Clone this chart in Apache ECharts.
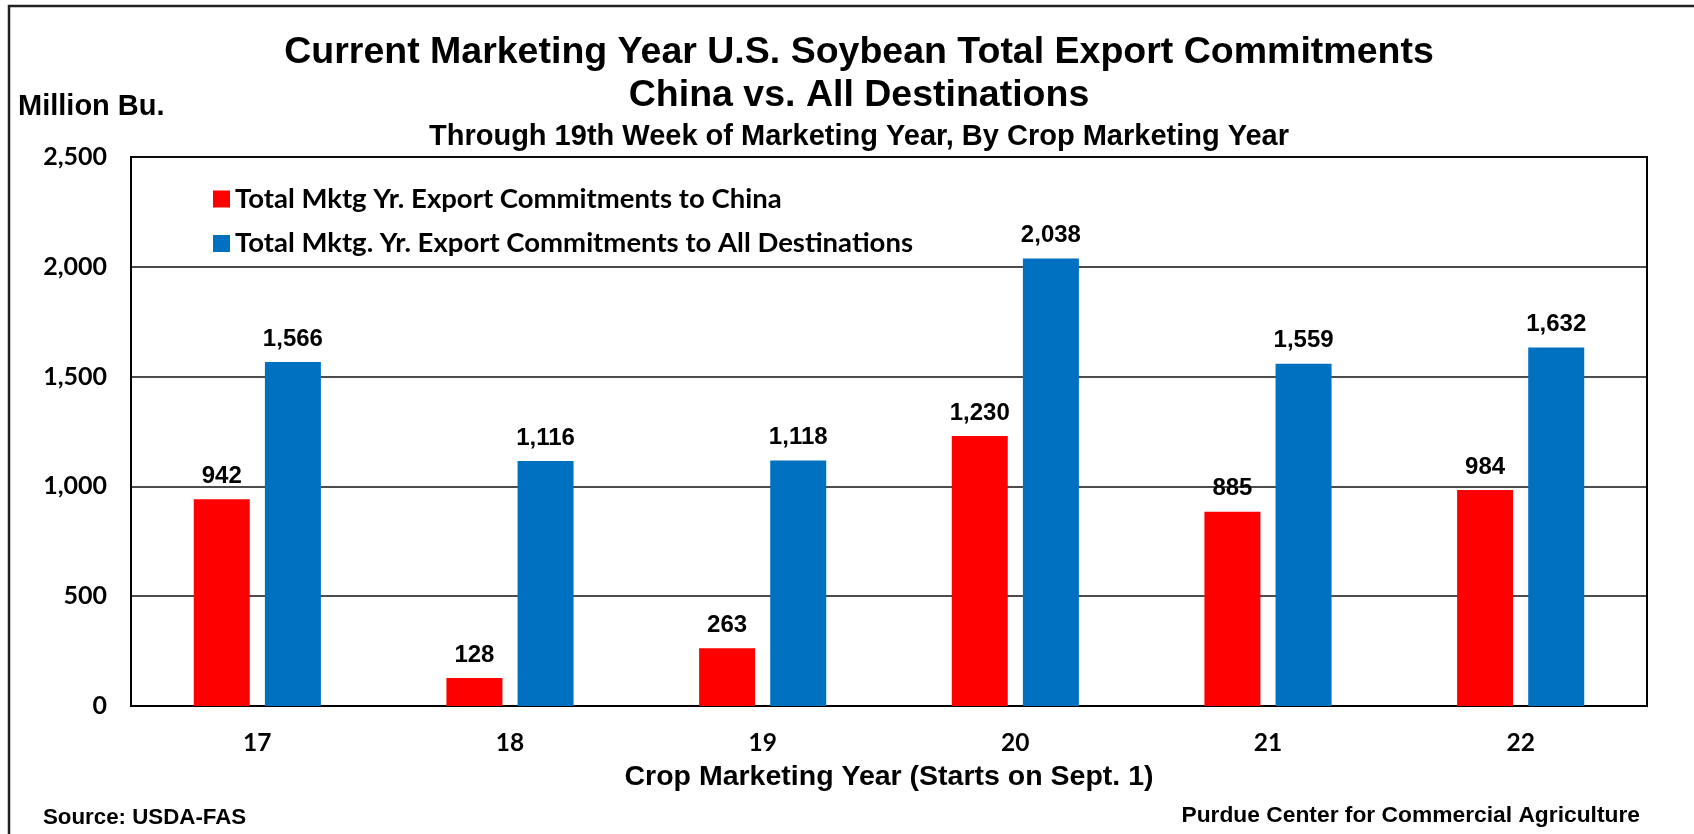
<!DOCTYPE html>
<html>
<head>
<meta charset="utf-8">
<script src="https://cdn.jsdelivr.net/npm/echarts@6/dist/echarts.min.js"></script>
<style>
html,body{margin:0;padding:0;background:#fff;}
#c{width:1694px;height:834px;}
</style>
</head>
<body>
<div id="c"></div>
<script>
const categories = ['17', '18', '19', '20', '21', '22'];
const chinaValues = [942, 128, 263, 1230, 885, 984];
const allDestValues = [1566, 1116, 1118, 2038, 1559, 1632];
const seriesNames = ['Total Mktg Yr. Export Commitments to China', 'Total Mktg. Yr. Export Commitments to All Destinations'];
const yTicks = [0, 500, 1000, 1500, 2000, 2500];

const CAL = 'Lato, "Open Sans", sans-serif';
const ARIAL = '"Liberation Sans", Arial, sans-serif';

const chart = echarts.init(document.getElementById('c'), null, {renderer: 'canvas'});
const fmt = v => v.toLocaleString('en-US');

chart.setOption({
  animation: false,
  backgroundColor: '#fff',
  title: [
    {text: 'Current Marketing Year U.S. Soybean Total Export Commitments', left: 854, top: 29, textAlign: 'center',
     textStyle: {fontFamily: ARIAL, fontWeight: 'bold', fontSize: 37.5, color: '#000'}},
    {text: 'China vs. All Destinations', left: 854, top: 72, textAlign: 'center',
     textStyle: {fontFamily: ARIAL, fontWeight: 'bold', fontSize: 37.5, color: '#000'}},
    {text: 'Through 19th Week of Marketing Year, By Crop Marketing Year', left: 854, top: 117, textAlign: 'center',
     textStyle: {fontFamily: ARIAL, fontWeight: 'bold', fontSize: 29, color: '#000'}},
    {text: 'Million Bu.', left: 13, top: 87,
     textStyle: {fontFamily: ARIAL, fontWeight: 'bold', fontSize: 29, color: '#000'}},
    {text: 'Source: USDA-FAS', left: 38, top: 802,
     textStyle: {fontFamily: ARIAL, fontWeight: 'bold', fontSize: 22.3, color: '#000'}},
    {text: 'Purdue Center for Commercial Agriculture', right: 49, top: 799,
     textStyle: {fontFamily: ARIAL, fontWeight: 'bold', fontSize: 22.8, color: '#000'}}
  ],
  graphic: [
    {type: 'polyline', shape: {points: [[9, 900], [9, 6], [1700, 6]]},
     style: {stroke: '#222', lineWidth: 2.5, fill: null}, silent: true}
  ],
  legend: {
    orient: 'vertical',
    left: 208,
    top: 180,
    itemWidth: 17,
    itemHeight: 17,
    itemGap: 16.5,
    icon: 'rect',
    textStyle: {fontFamily: CAL, fontWeight: 'bold', fontSize: 27.5, lineHeight: 27, color: '#000'},
    data: seriesNames
  },
  grid: {left: 131, right: 47, top: 157, bottom: 128, show: true, borderColor: '#000', borderWidth: 2, backgroundColor: 'transparent'},
  xAxis: {
    type: 'category',
    data: categories,
    name: 'Crop Marketing Year (Starts on Sept. 1)',
    nameLocation: 'middle',
    nameGap: 57,
    nameTextStyle: {fontFamily: ARIAL, fontWeight: 'bold', fontSize: 28.5, color: '#000'},
    axisLine: {lineStyle: {color: '#000', width: 2}},
    axisTick: {show: false},
    axisLabel: {fontFamily: CAL, fontWeight: 'bold', fontSize: 24.5, color: '#000', margin: 25}
  },
  yAxis: {
    type: 'value',
    min: yTicks[0],
    max: yTicks[yTicks.length - 1],
    interval: 500,
    axisLine: {show: true, lineStyle: {color: '#000', width: 2}},
    axisTick: {show: false},
    splitLine: {lineStyle: {color: '#111', width: 1.5}},
    axisLabel: {fontFamily: CAL, fontWeight: 'bold', fontSize: 25, color: '#000', margin: 24, formatter: fmt}
  },
  series: [
    {name: seriesNames[0], type: 'bar', data: chinaValues, barWidth: 56, barGap: '27%',
     itemStyle: {color: '#FF0000'},
     label: {show: true, position: 'top', distance: 11, formatter: p => fmt(p.value),
       fontFamily: ARIAL, fontWeight: 'bold', fontSize: 24, color: '#000'}},
    {name: seriesNames[1], type: 'bar', data: allDestValues, barWidth: 56,
     itemStyle: {color: '#0070C0'},
     label: {show: true, position: 'top', distance: 11, formatter: p => fmt(p.value),
       fontFamily: ARIAL, fontWeight: 'bold', fontSize: 24, color: '#000'}}
  ]
});
</script>
</body>
</html>
